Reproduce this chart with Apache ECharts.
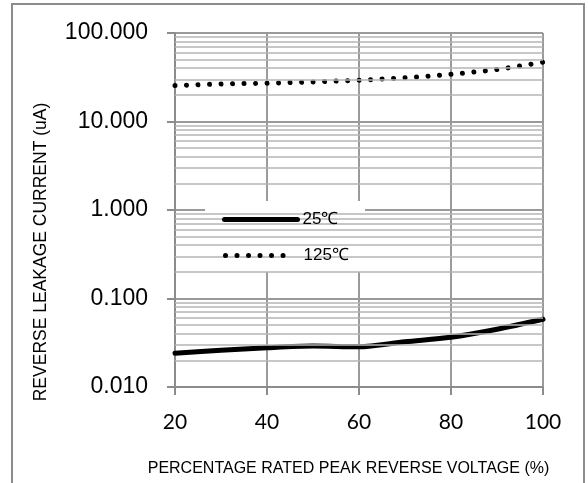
<!DOCTYPE html>
<html>
<head>
<meta charset="utf-8">
<script src="https://cdn.jsdelivr.net/npm/echarts@6/dist/echarts.min.js"></script>
<style>
html,body{margin:0;padding:0;background:#fff;}
#chart{width:588px;height:483px;}
</style>
</head>
<body>
<div id="chart"></div>
<script>
// ---- data ----
const xValues = [20, 30, 40, 50, 60, 70, 80, 90, 100];
const series25 = [0.0240, 0.0260, 0.0278, 0.0290, 0.0285, 0.0325, 0.0365, 0.0449, 0.0582];
const series125 = [25.5, 26.5, 27.1, 28.0, 29.3, 31.2, 34.2, 38.7, 46.8];
const seriesNames = ['25\u2103', '125\u2103'];
const yTickLabels = ['0.010', '0.100', '1.000', '10.000', '100.000'];
const xTickLabels = ['20', '40', '60', '80', '100'];
const xTitle = 'PERCENTAGE RATED PEAK REVERSE VOLTAGE (%)';
const yTitle = 'REVERSE LEAKAGE CURRENT (uA)';

// minor log grid positions (2..9 per decade)
const minorLines = [];
[0.01, 0.1, 1, 10].forEach(d => { for (let m = 2; m <= 9; m++) minorLines.push({ yAxis: +(d * m).toPrecision(3) }); });

const pair = (ys) => xValues.map((x, i) => [x, ys[i]]);
const DOTS = [0.01, 11.5];

const chart = echarts.init(document.getElementById('chart'), null, { renderer: 'canvas' });
chart.setOption({
  animation: false,
  backgroundColor: '#ffffff',
  grid: { left: 175, right: 45, top: 33, bottom: 96, containLabel: false },
  xAxis: {
    type: 'value', min: 20, max: 100, interval: 20,
    axisLine: { show: true, onZero: false, lineStyle: { color: '#8c8c8c', width: 2 } },
    axisTick: { show: true, inside: false, length: 8, lineStyle: { color: '#8c8c8c', width: 2 } },
    axisLabel: {
      margin: 25, color: '#000', fontFamily: 'Lato', fontSize: 21,
      formatter: (v) => { const i = [20, 40, 60, 80, 100].indexOf(Math.round(v)); return i >= 0 ? xTickLabels[i] : ''; }
    },
    splitLine: { show: true, lineStyle: { color: '#9a9a9a', width: 2 } },
    name: xTitle, nameLocation: 'middle', nameGap: 74,
    nameTextStyle: { fontFamily: '"Liberation Sans"', fontSize: 16, color: '#000', padding: [0, 21, 0, 0] }
  },
  yAxis: {
    type: 'log', logBase: 10, min: 0.01, max: 100,
    axisLine: { show: true, lineStyle: { color: '#8c8c8c', width: 2 } },
    axisTick: { show: true, inside: false, length: 8, lineStyle: { color: '#8c8c8c', width: 2 } },
    axisLabel: {
      margin: 27, color: '#000', fontFamily: '"Liberation Sans"', fontSize: 23,
      formatter: (v) => { const i = Math.round(Math.log10(v)) + 2; return yTickLabels[i] || ''; }
    },
    splitLine: { show: true, lineStyle: { color: '#9a9a9a', width: 2 } },
    minorTick: { show: false },
    minorSplitLine: { show: false }
  },
  legend: [
    {
      data: [seriesNames[0]], left: 222, top: 211, padding: 0, orient: 'vertical',
      itemWidth: 73, itemHeight: 14, z: 6,
      itemStyle: { color: 'rgba(0,0,0,0)', borderWidth: 0, opacity: 0 },
      lineStyle: { width: 5, color: '#000', cap: 'round' },
      textStyle: { fontFamily: '"Liberation Sans"', fontSize: 17, color: '#000' }
    },
    {
      data: [seriesNames[1]], left: 223, top: 247, padding: 0, orient: 'vertical',
      itemWidth: 60, itemHeight: 14, z: 6,
      itemStyle: { color: 'rgba(0,0,0,0)', borderWidth: 0, opacity: 0 },
      lineStyle: { width: 5, color: '#000', type: DOTS, cap: 'round' },
      textStyle: { fontFamily: '"Liberation Sans"', fontSize: 17, color: '#000', padding: [0, 0, 0, 13] }
    }
  ],
  graphic: [
    { type: 'rect', z: 5, shape: { x: 205, y: 201, width: 160, height: 71 }, style: { fill: '#ffffff' }, silent: true },
    { type: 'rect', z: 10, shape: { x: 12, y: 4, width: 572, height: 520 }, style: { fill: 'none', stroke: '#8c8c8c', lineWidth: 2 }, silent: true },
    { type: 'text', z: 10, x: 41, y: 252, rotation: Math.PI / 2,
      style: { text: yTitle, font: '17.5px "Liberation Sans"', fill: '#000', align: 'center', verticalAlign: 'middle' } }
  ],
  series: [
    {
      name: '_minorgrid', type: 'line', data: [], z: 1, silent: true,
      markLine: {
        silent: true, symbol: 'none', label: { show: false }, animation: false,
        lineStyle: { color: '#b4b4b4', width: 1.5, type: 'solid' },
        emphasis: { disabled: true },
        data: minorLines
      }
    },
    {
      name: seriesNames[0], type: 'line', data: pair(series25), smooth: 0.3,
      symbol: 'none', z: 3,
      lineStyle: { color: '#000', width: 5, cap: 'round' },
      itemStyle: { color: '#000' }
    },
    {
      name: seriesNames[1], type: 'line', data: pair(series125), smooth: 0.3,
      symbol: 'none', z: 3,
      lineStyle: { color: '#000', width: 5, type: DOTS, cap: 'round', join: 'round' },
      itemStyle: { color: '#000' }
    }
  ]
});
</script>
</body>
</html>
